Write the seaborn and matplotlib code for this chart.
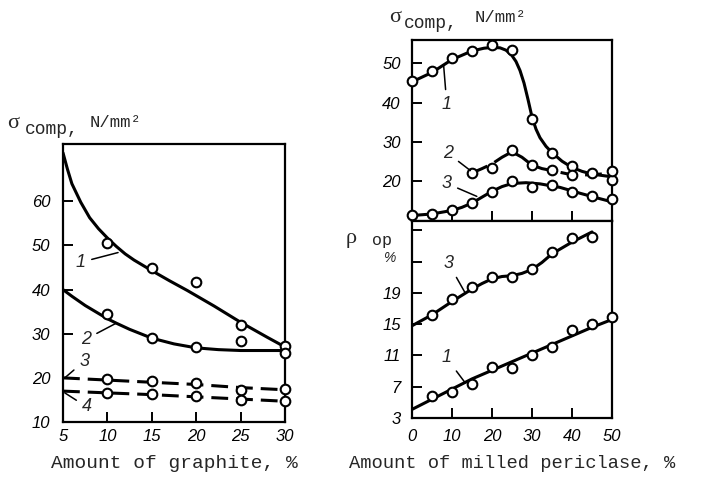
import matplotlib
matplotlib.use("Agg")
import matplotlib.pyplot as plt
import seaborn as sns

# ---- left panel: compressive strength vs graphite content ----
graph_x = [5, 10, 15, 20, 25, 30]

# smooth curves
c1_x = [5, 5.5, 6, 7, 8, 9, 10, 11, 12, 13, 15, 17, 19, 22, 25, 28, 30]
c1_y = [71, 67.3, 64, 59.8, 56.3, 53.8, 51.7, 49.8, 48.1, 46.7, 44.3, 42.0, 39.8, 36.3, 32.6, 29.2, 27.0]
c2_x = [5, 6, 7.5, 9, 10, 11, 12.5, 14, 15, 17.5, 20, 22.5, 25, 27.5, 30]
c2_y = [40, 38.5, 36.4, 34.6, 33.4, 32.4, 31.0, 29.8, 29.0, 27.7, 26.8, 26.4, 26.2, 26.2, 26.2]
c3_x = [5, 10, 15, 20, 25, 30]
c3_y = [20.0, 19.5, 19.0, 18.5, 17.8, 17.3]
c4_x = [5, 10, 15, 20, 25, 30]
c4_y = [17.0, 16.6, 16.2, 15.7, 15.2, 14.7]

# measured points
p1_y = [50.6, 45.0, 41.7, 31.9, 27.2]
p2_y = [34.4, 29.0, 27.0, 28.3, 25.7]
p3_y = [19.7, 19.3, 18.8, 17.2, 17.4]
p4_y = [16.6, 16.3, 15.8, 15.0, 14.8]

# ---- right panels: vs milled periclase content ----
per_x = [0, 5, 10, 15, 20, 25, 30, 35, 40, 45, 50]

# upper: sigma_comp
u1_x = [0, 5, 10, 15, 18, 20, 22, 23.5, 25, 26, 27, 28, 29, 30, 31, 32, 33.5, 35, 37.5, 40, 42.5, 45, 50]
u1_y = [45.3, 47.7, 51.0, 53.2, 53.9, 54.1, 54.0, 53.4, 52.0, 50.5, 48.2, 45.0, 40.8, 36.3, 33.2, 31.0, 28.8, 27.2, 25.0, 23.4, 22.4, 21.7, 21.0]
u1_pts = [45.5, 48.0, 51.4, 53.2, 54.7, 53.4, 35.9, 27.2, 23.7, 22.0, 20.2]

u2_x = [15, 17.5, 20, 22.5, 25, 27.5, 30, 32.5, 35, 40, 45, 50]
u2_y = [22.0, 23.1, 24.3, 26.0, 27.4, 26.0, 24.0, 23.1, 22.6, 21.5, 21.5, 22.0]
u2_px = [15, 20, 25, 30, 35, 40, 50]
u2_pts = [22.0, 23.2, 27.9, 23.9, 22.8, 21.5, 22.6]

u3_x = [0, 5, 10, 12.5, 15, 17.5, 20, 22.5, 25, 28.5, 32, 37, 42, 47, 50]
u3_y = [11.1, 11.5, 12.4, 13.2, 14.3, 15.8, 17.3, 18.5, 19.3, 19.5, 19.2, 18.3, 16.8, 15.4, 14.6]
u3_pts = [11.2, 11.6, 12.5, 14.4, 17.2, 20.0, 18.3, 19.0, 17.0, 16.1, 15.3]

# lower: rho_op
l3_x = [0, 5, 10, 15, 17.5, 20, 22.5, 25, 27.5, 30, 32.5, 35, 40, 45]
l3_y = [14.8, 16.2, 17.9, 19.5, 20.2, 20.8, 21.1, 21.2, 21.5, 22.0, 22.9, 24.0, 25.5, 26.8]
l3_px = [5, 10, 15, 20, 25, 30, 35, 40, 45]
l3_pts = [16.2, 18.2, 19.8, 21.1, 21.1, 22.1, 24.2, 26.0, 26.2]

l1_x = [0, 5, 10, 15, 20, 25, 30, 35, 40, 45, 50]
l1_y = [4.1, 5.4, 6.7, 8.0, 9.1, 10.2, 11.3, 12.4, 13.5, 14.6, 15.6]
l1_px = [5, 10, 15, 20, 25, 30, 35, 40, 45, 50]
l1_pts = [5.8, 6.3, 7.4, 9.5, 9.4, 11.1, 12.1, 14.3, 15.0, 15.9]

sns.set_style("ticks")
plt.rcParams['font.family'] = ['Liberation Sans', 'DejaVu Sans']

W, H = 728, 480
fig = plt.figure(figsize=(W / 100, H / 100), dpi=100)


def box(x0, y0, x1, y1):
    # pixel box (top-left origin) -> figure axes
    return fig.add_axes([x0 / W, 1 - y1 / H, (x1 - x0) / W, (y1 - y0) / H])


def curve(ax, x, y, dashed=False):
    ls = (0, (5.5, 2.6)) if dashed else '-'
    sns.lineplot(x=x, y=y, ax=ax, color='black', lw=2.2, linestyle=ls, zorder=2)


def points(ax, x, y):
    sns.scatterplot(x=x, y=y, ax=ax, s=48, color='white', edgecolor='black',
                    linewidth=1.5, zorder=3, clip_on=False)


def style(ax, pad_x, pad_y):
    for s in ax.spines.values():
        s.set_visible(True)
        s.set_linewidth(1.6)
        s.set_color('black')
    ax.tick_params(direction='in', length=7.5, width=1.4, colors='black', labelsize=12)
    ax.tick_params(axis='x', pad=pad_x)
    ax.tick_params(axis='y', pad=pad_y)
    for lab in ax.get_xticklabels() + ax.get_yticklabels():
        lab.set_fontstyle('italic')
    ax.set_xlabel('')
    ax.set_ylabel('')


def tag(ax, txt, xy, xytext):
    ax.annotate(txt, xy=xy, xytext=xytext, fontsize=13, fontstyle='italic',
                ha='center', va='center',
                arrowprops=dict(arrowstyle='-', color='black', lw=1.1, shrinkA=2, shrinkB=0))


# left panel
axL = box(63, 144, 285, 422)
curve(axL, c1_x, c1_y)
curve(axL, c2_x, c2_y)
curve(axL, c3_x, c3_y, dashed=True)
curve(axL, c4_x, c4_y, dashed=True)
points(axL, graph_x[1:], p1_y)
points(axL, graph_x[1:], p2_y)
points(axL, graph_x[1:], p3_y)
points(axL, graph_x[1:], p4_y)
axL.set_xlim(5, 30)
axL.set_ylim(10, 73)
axL.set_xticks(graph_x)
axL.set_yticks([10, 20, 30, 40, 50, 60])
style(axL, 5, 9)
tag(axL, '1', (11.2, 48.4), (7.0, 46.2))
tag(axL, '2', (11.0, 32.4), (7.6, 28.8))
tag(axL, '3', (5.2, 20.0), (7.4, 23.8))
tag(axL, '4', (5.2, 16.6), (7.7, 13.4))
axL.set_xlabel('Amount of graphite, %', family='Liberation Mono', fontsize=14, labelpad=8)

# right upper panel
axU = box(412, 40, 612, 221)
curve(axU, u1_x, u1_y)
curve(axU, u2_x, u2_y, dashed=True)
curve(axU, u3_x, u3_y)
points(axU, per_x, u1_pts)
points(axU, u2_px, u2_pts)
points(axU, per_x, u3_pts)
axU.set_xlim(0, 50)
axU.set_ylim(9.7, 56)
axU.set_xticks([0, 10, 20, 30, 40, 50])
axU.set_xticklabels([])
axU.set_yticks([20, 30, 40, 50])
style(axU, 5, 8)
tag(axU, '1', (7.9, 49.6), (8.7, 39.6))
tag(axU, '2', (14.6, 22.6), (9.0, 27.0))
tag(axU, '3', (16.2, 16.0), (8.7, 19.3))

# right lower panel
axD = box(412, 221, 612, 418)
curve(axD, l3_x, l3_y)
curve(axD, l1_x, l1_y)
points(axD, l3_px, l3_pts)
points(axD, l1_px, l1_pts)
axD.set_xlim(0, 50)
axD.set_ylim(3, 28.2)
axD.set_xticks([0, 10, 20, 30, 40, 50])
axD.set_yticks([3, 7, 11, 15, 19, 23, 27])
axD.set_yticklabels(['3', '7', '11', '15', '19', '', ''])
style(axD, 8, 8)
tag(axD, '3', (13.3, 19.0), (9.1, 22.8))
tag(axD, '1', (13.3, 7.5), (8.6, 10.7))
axD.set_xlabel('Amount of milled periclase, %', family='Liberation Mono', fontsize=13.5, labelpad=8)

# axis titles
def ftxt(px, py, s, **kw):
    fig.text(px / W, 1 - py / H, s, va='baseline', ha='left', **kw)


ftxt(7, 128, 'σ', family='Liberation Serif', fontsize=16)
ftxt(25, 134, 'comp,', family='Liberation Mono', fontsize=13)
ftxt(90, 127, 'N/mm²', family='Liberation Mono', fontsize=12.5)

ftxt(389, 22, 'σ', family='Liberation Serif', fontsize=16)
ftxt(404, 28, 'comp,', family='Liberation Mono', fontsize=13)
ftxt(475, 22, 'N/mm²', family='Liberation Mono', fontsize=12.5)

ftxt(346, 243, 'ρ', family='Liberation Serif', fontsize=16)
ftxt(372, 245, 'op', family='Liberation Mono', fontsize=12)
ftxt(383, 262, '%', fontsize=10, fontstyle='italic')

fig.savefig('out.png', dpi=100)
